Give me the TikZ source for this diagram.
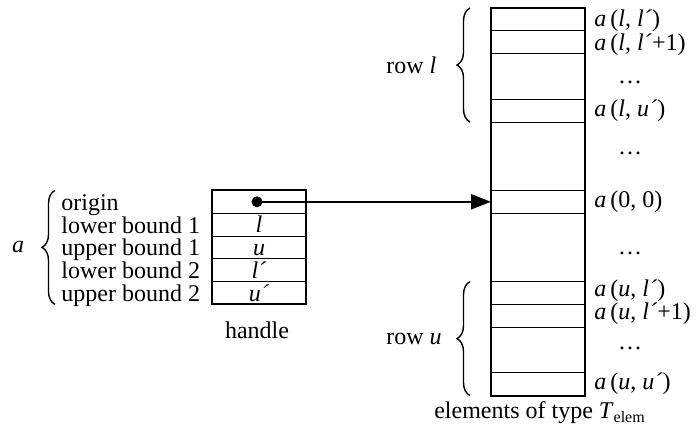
\documentclass[tikz,border=0pt]{standalone}
\usepackage{fontspec}
\setmainfont{Liberation Serif}
\usetikzlibrary{arrows.meta,decorations.pathreplacing}
\tikzset{
    cell/.style={
        draw,
        line width=0.5pt,
        minimum width=47pt,
        minimum height=11.4pt,
        inner sep=0pt,
        outer sep=0pt
    },
    boundcell/.style={
        cell,
        text height=9pt,
        text depth=1pt
    },
    outline/.style={
        draw,
        line width=1pt,
        minimum width=47pt,
        inner sep=0pt,
        outer sep=0pt
    },
    fieldname/.style={
        anchor=base west,
        inner sep=0pt
    },
    elemlabel/.style={
        anchor=west,
        inner sep=0pt
    },
    pointer/.style={
        -{Triangle[length=10pt,width=7.5pt]},
        line width=1pt
    },
    groupbrace/.style={
        decorate,
        decoration={brace,amplitude=6.5pt},
        line width=0.7pt
    }
}

\begin{document}
\begin{tikzpicture}[x=0.5pt,y=-0.5pt,font=\fontsize{12}{14}\selectfont]
    \useasboundingbox (0,0) rectangle (700,440);

    % handle
    \node[cell] (horigin) at (259,201.8) {};
    \node[boundcell] (hlow1) at (259,224.6) {\textit{l}};
    \node[boundcell] (hup1) at (259,247.4) {\textit{u}};
    \node[boundcell] (hlow2) at (259,270.2) {\textit{l´}};
    \node[boundcell] (hup2) at (259,293) {\textit{u´}};
    \node[outline, minimum height=57pt] (handle) at (259,247.4) {};
    \node[circle, fill, inner sep=0pt, minimum size=5.5pt] (dot) at (257,201.8) {};
    \node (handlename) at (257,330) {handle};

    \node[fieldname] (origin) at (61,210.3) {origin};
    \node[fieldname] (lower1) at (61,233.1) {lower bound 1};
    \node[fieldname] (upper1) at (61,255.9) {upper bound 1};
    \node[fieldname] (lower2) at (61,278.7) {lower bound 2};
    \node[fieldname] (upper2) at (61,301.5) {upper bound 2};
    \node (aname) at (18,247.4) {\textit{a}};
    \coordinate (abottom) at (55,304.4);
    \coordinate (atop) at (55,190.4);
    \draw[groupbrace] (abottom) -- (atop);

    % elements
    \node[cell] (all) at (538,19.4) {};
    \node[cell] (all1) at (538,42.2) {};
    \node[cell] (alu) at (538,110.6) {};
    \node[cell] (a00) at (538,201.8) {};
    \node[cell] (aul) at (538,293) {};
    \node[cell] (aul1) at (538,315.8) {};
    \node[cell] (auu) at (538,384.2) {};
    \node[outline, minimum height=193.8pt] (elements) at (538,201.8) {};

    \node[elemlabel] (tall) at (594,21) {\textit{a}\,(\textit{l}, \textit{l´})};
    \node[elemlabel] (tall1) at (594,45) {\textit{a}\,(\textit{l}, \textit{l´}+1)};
    \node (dots1) at (630,82) {\dots};
    \node[elemlabel] (talu) at (594,110.6) {\textit{a}\,(\textit{l}, \textit{u´})};
    \node (dots2) at (630,153) {\dots};
    \node[elemlabel] (ta00) at (594,201.8) {\textit{a}\,(0, 0)};
    \node (dots3) at (630,253) {\dots};
    \node[elemlabel] (taul) at (594,291) {\textit{a}\,(\textit{u}, \textit{l´})};
    \node[elemlabel] (taul1) at (594,314) {\textit{a}\,(\textit{u}, \textit{l´}+1)};
    \node (dots4) at (630,348) {\dots};
    \node[elemlabel] (tauu) at (594,384.2) {\textit{a}\,(\textit{u}, \textit{u´})};
    \node (elemname) at (540,413) {elements of type \textit{T}\textsubscript{elem}};

    \draw[groupbrace] ([xshift=-10.5pt]alu.south west) -- ([xshift=-10.5pt]all.north west);
    \draw[groupbrace] ([xshift=-10.5pt]auu.south west) -- ([xshift=-10.5pt]aul.north west);
    \node[anchor=west, inner sep=0pt] (rowl) at (386,65) {row \textit{l}};
    \node[anchor=west, inner sep=0pt] (rowu) at (386,338.6) {row \textit{u}};

    \draw[pointer] (dot.center) -- (a00.west);
\end{tikzpicture}
\end{document}
